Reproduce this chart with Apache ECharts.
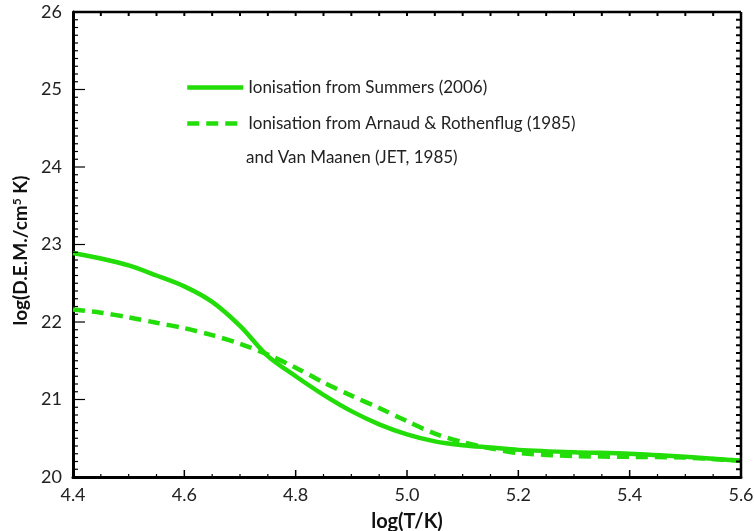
<!DOCTYPE html>
<html>
<head>
<meta charset="utf-8">
<script src="https://cdn.jsdelivr.net/npm/echarts@6/dist/echarts.min.js"></script>
<style>
  html, body { margin: 0; padding: 0; background: #fff; }
  #chart { width: 754px; height: 531px; }
</style>
</head>
<body>
<div id="chart"></div>
<script>
// Temperature grid, log10(T/K)
const logT = [4.40, 4.45, 4.50, 4.55, 4.60, 4.65, 4.70, 4.75, 4.80, 4.85, 4.90,
              4.95, 5.00, 5.05, 5.10, 5.15, 5.20, 5.30, 5.40, 5.50, 5.60];

// log(D.E.M.) with ionisation from Summers (2006)
const demSummers = [22.89, 22.82, 22.73, 22.60, 22.46, 22.26, 21.95, 21.56, 21.30, 21.06, 20.85,
                    20.68, 20.55, 20.46, 20.41, 20.38, 20.35, 20.32, 20.30, 20.26, 20.21];

// log(D.E.M.) with ionisation from Arnaud & Rothenflug (1985) and Van Maanen (JET, 1985)
const demArnaud = [22.16, 22.12, 22.06, 21.99, 21.92, 21.83, 21.72, 21.58, 21.41, 21.22, 21.05,
                   20.89, 20.72, 20.56, 20.45, 20.37, 20.31, 20.27, 20.26, 20.25, 20.21];

const seriesNames = ['Ionisation from Summers (2006)',
                     'Ionisation from Arnaud & Rothenflug (1985)'];
const legendContinuation = 'and Van Maanen (JET, 1985)';

const xRange = [4.4, 5.6];
const yRange = [20, 26];

const green = '#22dd08';
const font = 'Lato, "Open Sans", sans-serif';

function pairs(xs, ys) { return xs.map((x, i) => [x, ys[i]]); }

// Tick values between lo and hi every step
function tickValues(lo, hi, step) {
  const n = Math.round((hi - lo) / step);
  const out = [];
  for (let i = 0; i <= n; i++) out.push(+(lo + i * step).toFixed(4));
  return out;
}

// Frame items: [value, edge, major]; edge 0 bottom, 1 top, 2 left, 3 right,
// 4 top border line, 5 right border line
const frameItems = [];
tickValues(xRange[0], xRange[1], 0.05).forEach((v, i) => {
  frameItems.push([v, 0, i % 4 === 0 ? 1 : 0]);
  frameItems.push([v, 1, 0]);
});
tickValues(yRange[0], yRange[1], 0.1).forEach((v, i) => {
  frameItems.push([v, 2, i % 10 === 0 ? 1 : 0]);
  frameItems.push([v, 3, 0]);
});
frameItems.push([0, 4, 0], [0, 5, 0]);

function segment(x1, y1, x2, y2, w) {
  return { type: 'line', shape: { x1: x1, y1: y1, x2: x2, y2: y2 },
           style: { stroke: '#000', lineWidth: w } };
}

// Inward ticks and the top/right border, positioned by the axis scales
function renderFrame(params, api) {
  const v = api.value(0), edge = api.value(1), major = api.value(2) === 1;
  const lb = api.coord([xRange[0], yRange[0]]);
  const rt = api.coord([xRange[1], yRange[1]]);
  let p;
  switch (edge) {
    case 0: p = api.coord([v, yRange[0]]);
      return segment(p[0], lb[1], p[0], lb[1] - (major ? 7 : 3), major ? 1.5 : 1.2);
    case 1: p = api.coord([v, yRange[1]]);
      return segment(p[0], rt[1], p[0], rt[1] + 4, 2);
    case 2: p = api.coord([xRange[0], v]);
      return segment(lb[0], p[1], lb[0] + (major ? 12 : 5), p[1], 1.2);
    case 3: p = api.coord([xRange[1], v]);
      return segment(rt[0], p[1], rt[0] - 5, p[1], 2);
    case 4:
      return segment(lb[0], rt[1], rt[0], rt[1], 2.5);
    default:
      return segment(rt[0], rt[1], rt[0], lb[1], 2.5);
  }
}

const chart = echarts.init(document.getElementById('chart'), null, { renderer: 'canvas' });

chart.setOption({
  animation: false,
  backgroundColor: '#ffffff',
  grid: { left: 73, right: 13, top: 12, bottom: 54, containLabel: false, outerBoundsMode: 'none' },
  legend: {
    orient: 'vertical',
    left: 180,
    top: 74,
    itemWidth: 56,
    itemHeight: 14,
    itemGap: 19,
    selectedMode: false,
    itemStyle: { opacity: 0 },
    lineStyle: { width: 4.5 },
    textStyle: { fontFamily: font, fontSize: 17, color: '#222' },
    data: seriesNames
  },
  graphic: [{
    type: 'text',
    left: 246,
    top: 149,
    style: { text: legendContinuation, font: '17px ' + font, fill: '#222' }
  }],
  xAxis: {
    type: 'value',
    position: 'bottom',
    min: xRange[0], max: xRange[1], interval: 0.2,
    name: 'log(T/K)',
    nameLocation: 'middle',
    nameGap: 35,
    nameTextStyle: { fontFamily: font, fontSize: 20, fontWeight: 'bold', color: '#111' },
    axisLine: { show: true, onZero: false, lineStyle: { color: '#000', width: 3 } },
    axisTick: { show: false },
    axisLabel: {
      fontFamily: font, fontSize: 18, color: '#222', margin: 9,
      formatter: v => v.toFixed(1)
    },
    splitLine: { show: false }
  },
  yAxis: {
    type: 'value',
    position: 'left',
    min: yRange[0], max: yRange[1], interval: 1,
    name: 'log(D.E.M./cm{sup|5} K)',
    nameLocation: 'middle',
    nameGap: 41,
    nameTextStyle: {
      fontFamily: font, fontSize: 19, fontWeight: 'bold', color: '#111',
      padding: [0, 12, 0, 0],
      rich: { sup: { fontFamily: font, fontSize: 12, fontWeight: 'bold', color: '#111', verticalAlign: 'top', padding: [0, 0, 8, 0] } }
    },
    axisLine: { show: true, onZero: false, lineStyle: { color: '#000', width: 3 } },
    axisTick: { show: false },
    axisLabel: { fontFamily: font, fontSize: 18, color: '#222', margin: 11 },
    splitLine: { show: false }
  },
  series: [{
    name: seriesNames[0],
    type: 'line',
    data: pairs(logT, demSummers),
    smooth: 0.3,
    symbol: 'none',
    color: green,
    lineStyle: { color: green, width: 4.5, type: 'solid', cap: 'butt' }
  }, {
    name: seriesNames[1],
    type: 'line',
    data: pairs(logT, demArnaud),
    smooth: 0.3,
    symbol: 'none',
    color: green,
    lineStyle: { color: green, width: 4.5, type: [12, 7], cap: 'butt' }
  }, {
    name: 'frame',
    type: 'custom',
    silent: true,
    clip: false,
    z: 5,
    data: frameItems,
    renderItem: renderFrame
  }]
});
</script>
</body>
</html>
